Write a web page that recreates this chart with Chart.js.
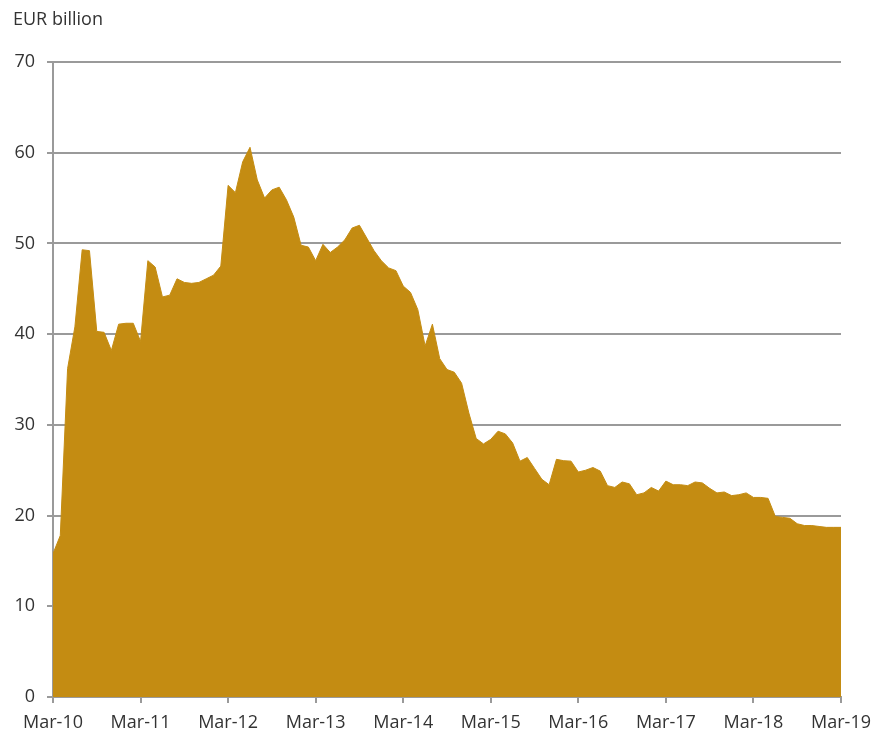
<!DOCTYPE html>
<html>
<head>
<meta charset="utf-8">
<script src="https://cdn.jsdelivr.net/npm/chart.js@4"></script>
<style>
  html, body { margin: 0; padding: 0; background: #fff; }
  #wrap { width: 875px; height: 731px; position: relative; }
</style>
</head>
<body>
<div id="wrap"><canvas id="outstandingChart"></canvas></div>
<script>
'use strict';

// yearly tick labels, one every 12 months
const yearLabels = ['Mar-10', 'Mar-11', 'Mar-12', 'Mar-13', 'Mar-14', 'Mar-15',
    'Mar-16', 'Mar-17', 'Mar-18', 'Mar-19'];

// monthly outstanding amount, EUR billion, Mar-10 .. Mar-19
const outstanding = [
    15.8, 17.8, 36.2, 40.8, 49.3, 49.2, 40.3, 40.2, 38.2, 41.1, 41.2, 41.2,
    39.2, 48.1, 47.4, 44.1, 44.3, 46.1, 45.7, 45.6, 45.7, 46.1, 46.5, 47.5,
    56.4, 55.6, 59.0, 60.6, 57.0, 55.0, 55.9, 56.2, 54.8, 52.9, 49.8, 49.6,
    48.1, 49.9, 49.0, 49.6, 50.4, 51.7, 52.0, 50.6, 49.2, 48.1, 47.3, 47.0,
    45.3, 44.6, 42.7, 38.7, 41.1, 37.3, 36.1, 35.8, 34.6, 31.3, 28.5, 27.9,
    28.4, 29.3, 29.0, 28.0, 26.0, 26.4, 25.2, 24.0, 23.4, 26.2, 26.05, 26.0,
    24.8, 25.0, 25.3, 24.9, 23.3, 23.1, 23.7, 23.5, 22.3, 22.5, 23.1, 22.7,
    23.8, 23.4, 23.4, 23.3, 23.7, 23.6, 23.0, 22.5, 22.6, 22.2, 22.3, 22.5,
    22.0, 22.0, 21.9, 19.9, 19.8, 19.7, 19.1, 18.9, 18.9, 18.8, 18.7, 18.7,
    18.7
];

const yTicks = [0, 10, 20, 30, 40, 50, 60, 70];

const gridGrey = '#9a9a9a';
const textColour = '#333333';
const fontFamily = '"Open Sans", Lato, sans-serif';

// unit label drawn above the value axis
const unitLabel = {
    id: 'unitLabel',
    afterDraw(chart) {
        const ctx = chart.ctx;
        ctx.save();
        ctx.font = '18px ' + fontFamily;
        ctx.fillStyle = textColour;
        ctx.textBaseline = 'middle';
        ctx.textAlign = 'left';
        ctx.fillText('EUR billion', 13, 20);
        ctx.restore();
    }
};

let outstandingChart = document.querySelector('#outstandingChart');
new Chart(outstandingChart, {
    type: 'line',
    data: {
        datasets: [
            {
                data: outstanding.map((v, i) => ({ x: i, y: v })),
                backgroundColor: '#c48c12',
                borderColor: '#c48c12',
                borderWidth: 1,
                pointRadius: 0,
                tension: 0,
                fill: 'origin'
            }
        ]
    },
    options: {
        responsive: true,
        maintainAspectRatio: false,
        animation: false,
        layout: {
            padding: { top: 62, right: 34, left: 0, bottom: 0 }
        },
        plugins: {
            legend: { display: false },
            tooltip: { enabled: false }
        },
        scales: {
            x: {
                type: 'linear',
                min: 0,
                max: (yearLabels.length - 1) * 12,
                afterBuildTicks: (scale) => {
                    scale.ticks = yearLabels.map((l, i) => ({ value: i * 12 }));
                },
                afterFit: (scale) => {
                    // fixed axis box; end labels may overhang into the padding
                    scale.height = 34;
                    scale.paddingLeft = 0;
                    scale.paddingRight = 0;
                },
                border: { color: gridGrey, width: 2 },
                grid: {
                    drawOnChartArea: false,
                    color: gridGrey,
                    lineWidth: 2,
                    tickLength: 6
                },
                ticks: {
                    autoSkip: false,
                    maxRotation: 0,
                    padding: 9,
                    color: textColour,
                    font: { family: fontFamily, size: 18 },
                    callback: (value) => yearLabels[value / 12]
                }
            },
            y: {
                min: 0,
                max: 70,
                afterBuildTicks: (scale) => {
                    scale.ticks = yTicks.map((v) => ({ value: v }));
                },
                afterFit: (scale) => {
                    scale.width = 53;
                    scale.paddingTop = 0;
                    scale.paddingBottom = 0;
                },
                border: { color: gridGrey, width: 2 },
                grid: {
                    color: gridGrey,
                    lineWidth: 2,
                    tickLength: 6
                },
                ticks: {
                    padding: 12,
                    color: textColour,
                    font: { family: fontFamily, size: 18 }
                }
            }
        }
    },
    plugins: [unitLabel]
});
</script>
</body>
</html>
